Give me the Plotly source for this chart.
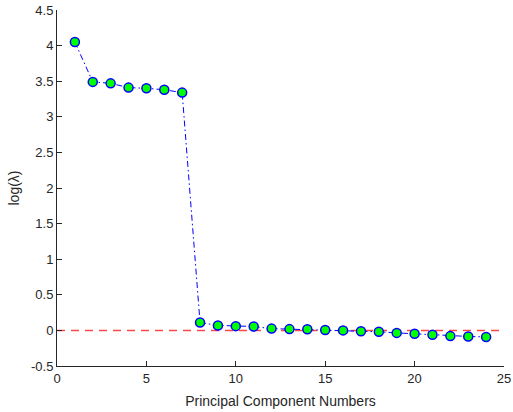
import plotly.graph_objects as go

components = list(range(1, 25))
log_lambda = [4.05, 3.49, 3.47, 3.41, 3.40, 3.38, 3.34, 0.11, 0.07, 0.06, 0.055, 0.025,
              0.018, 0.015, 0.006, 0.0, -0.012, -0.02, -0.035, -0.048, -0.06, -0.08,
              -0.085, -0.092]
ref_x = [0, 25]
ref_y = [0, 0]

x_ticks = [0, 5, 10, 15, 20, 25]
y_ticks = [-0.5, 0, 0.5, 1, 1.5, 2, 2.5, 3, 3.5, 4, 4.5]
y_tick_text = ["-0.5", "0", "0.5", "1", "1.5", "2", "2.5", "3", "3.5", "4", "4.5"]

fig = go.Figure()
fig.add_trace(go.Scatter(
    x=ref_x, y=ref_y, mode="lines",
    line=dict(color="rgba(255,60,60,0.95)", width=1.5, dash="8px,6px"),
    showlegend=False, hoverinfo="skip"))
fig.add_trace(go.Scatter(
    x=components, y=log_lambda, mode="lines+markers",
    line=dict(color="#0000ff", width=1, dash="6px,3px,1.5px,3px"),
    marker=dict(size=9, color="#00ff00", line=dict(color="#0000ff", width=1.5)),
    showlegend=False))

axis_common = dict(
    showgrid=False, zeroline=False, showline=True, linecolor="#262626", linewidth=1,
    ticks="inside", ticklen=5, tickcolor="#262626", tickwidth=1,
    tickfont=dict(family="Liberation Sans, Arial, sans-serif", size=13, color="#262626"),
    mirror=False, ticklabeloverflow="allow", automargin=False,
)

fig.update_layout(
    width=513, height=412,
    margin=dict(l=57, r=9, t=10, b=46),
    paper_bgcolor="white", plot_bgcolor="white",
    xaxis=dict(range=[0, 25], tickvals=x_ticks,
               title=dict(text="Principal Component Numbers", standoff=11,
                          font=dict(family="Liberation Sans, Arial, sans-serif", size=14, color="#262626")),
               **axis_common),
    yaxis=dict(range=[-0.5, 4.5], tickvals=y_ticks, ticktext=y_tick_text,
               title=dict(text="log(λ)", standoff=8,
                          font=dict(family="Liberation Sans, Arial, sans-serif", size=14, color="#262626")),
               **axis_common),
)

fig.write_html("out.html")
